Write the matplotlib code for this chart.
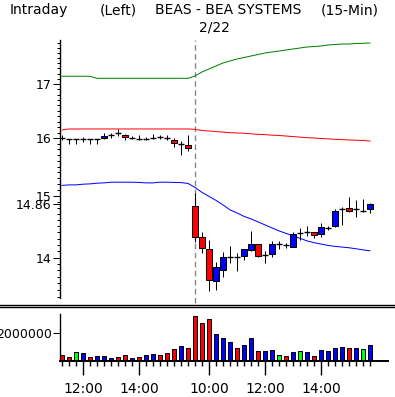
import matplotlib
matplotlib.use("Agg")
import matplotlib.pyplot as plt
from matplotlib import font_manager
from matplotlib.lines import Line2D
from matplotlib.ticker import FixedLocator, FixedFormatter, NullFormatter

# 15-min bars: 19 on the first day (11:15 - 15:45), 26 on 2/22 (9:30 - 15:45)
opens = [16.01, 15.99, 15.99, 15.99, 15.99, 15.99, 16.00, 16.065, 16.095, 16.065,
         16.011, 15.993, 15.982, 16.011, 16.017, 16.011, 15.976, 15.904, 15.886,
         14.833, 14.323, 14.132, 13.640, 13.808, 14.006, 14.006, 14.026, 14.121, 14.216,
         14.042, 14.058, 14.211, 14.195, 14.173, 14.397, 14.403, 14.408, 14.376, 14.477,
         14.510, 14.778, 14.795, 14.778, 14.755, 14.778]
highs = [16.05, 15.99, 15.99, 16.02, 15.99, 15.99, 16.10, 16.10, 16.16, 16.083,
         16.041, 16.053, 16.023, 16.071, 16.053, 16.053, 16.011, 15.946, 16.065,
         15.056, 14.403, 14.280, 13.937, 14.094, 14.184, 14.069, 14.132, 14.424, 14.216,
         14.110, 14.264, 14.264, 14.227, 14.413, 14.468, 14.505, 14.413, 14.549, 14.510,
         14.778, 14.822, 14.988, 14.933, 14.950, 14.878]
lows = [15.96, 15.90, 15.90, 15.93, 15.90, 15.90, 15.99, 16.00, 16.04, 15.964,
        15.982, 15.964, 15.964, 15.982, 15.982, 15.964, 15.845, 15.710, 15.768,
        14.253, 14.078, 13.492, 13.503, 13.705, 13.912, 13.798, 13.964, 14.110, 14.015,
        13.922, 14.015, 14.132, 14.148, 14.164, 14.280, 14.348, 14.307, 14.323, 14.440,
        14.494, 14.521, 14.729, 14.647, 14.729, 14.712]
closes = [16.01, 15.99, 15.99, 15.99, 15.99, 15.99, 16.04, 16.065, 16.095, 16.017,
          16.011, 15.993, 15.982, 16.011, 16.017, 16.011, 15.916, 15.904, 15.827,
          14.332, 14.148, 13.655, 13.850, 14.006, 14.006, 14.006, 14.132, 14.216, 14.031,
          14.042, 14.211, 14.211, 14.195, 14.376, 14.397, 14.403, 14.360, 14.484, 14.477,
          14.750, 14.778, 14.755, 14.778, 14.755, 14.866]

upper_band = [17.15, 17.15, 17.15, 17.15, 17.15, 17.11, 17.11, 17.11, 17.11, 17.11,
              17.11, 17.11, 17.11, 17.11, 17.11, 17.11, 17.11, 17.11, 17.11,
              17.155, 17.232, 17.290, 17.348, 17.406, 17.445, 17.484, 17.514, 17.543, 17.572,
              17.602, 17.622, 17.641, 17.661, 17.681, 17.701, 17.721, 17.730, 17.740, 17.760,
              17.770, 17.780, 17.780, 17.790, 17.794, 17.800]
mid_band = [16.149, 16.167, 16.167, 16.167, 16.167, 16.167, 16.167, 16.167, 16.167, 16.167,
            16.167, 16.167, 16.167, 16.167, 16.167, 16.167, 16.167, 16.167, 16.167,
            16.16, 16.14, 16.13, 16.12, 16.11, 16.10, 16.095, 16.09, 16.08, 16.07,
            16.065, 16.055, 16.05, 16.04, 16.03, 16.02, 16.01, 16.005, 15.995, 15.99,
            15.98, 15.975, 15.97, 15.965, 15.96, 15.95]
lower_band = [15.177, 15.186, 15.186, 15.198, 15.203, 15.215, 15.220, 15.232, 15.232, 15.232,
              15.232, 15.228, 15.220, 15.220, 15.232, 15.232, 15.228, 15.225, 15.211,
              15.143, 15.059, 14.992, 14.925, 14.850, 14.767, 14.717, 14.660, 14.619, 14.570,
              14.521, 14.472, 14.424, 14.384, 14.344, 14.304, 14.264, 14.235, 14.213, 14.191,
              14.176, 14.165, 14.154, 14.138, 14.121, 14.105]

volumes = [430000, 260000, 620000, 570000, 260000, 330000, 330000, 190000, 260000, 400000,
           190000, 260000, 400000, 500000, 400000, 550000, 830000, 1050000, 900000,
           3190000, 2690000, 2980000, 1900000, 1620000, 1330000, 900000, 1120000, 1620000, 690000,
           690000, 760000, 400000, 330000, 620000, 690000, 620000, 330000, 760000, 690000,
           900000, 980000, 900000, 900000, 830000, 1120000]
vol_colors = ["r", "r", "g", "b", "r", "b", "b", "b", "r", "r",
              "b", "r", "b", "b", "r", "r", "r", "b", "r",
              "r", "r", "r", "b", "b", "b", "r", "b", "b", "r",
              "b", "b", "g", "r", "b", "g", "b", "r", "b", "b",
              "b", "b", "r", "b", "g", "b"]

price_ticks = [14, 14.86, 15, 16, 17]
time_tick_pos = [3, 11, 21, 29, 37]
time_tick_labels = ["12:00", "14:00", "10:00", "12:00", "14:00"]
day_break = 19

COLORS = {"r": "#ff0000", "b": "#0000ff", "g": "#00ff00"}

# narrow font if we have it, the original uses a condensed bitmap-ish face
installed = {f.name for f in font_manager.fontManager.ttflist}
if "Liberation Sans Narrow" in installed:
    FONT, FS, HFS = "Liberation Sans Narrow", 12, 12
else:
    FONT, FS, HFS = "DejaVu Sans", 9, 10
plt.rcParams["font.family"] = FONT
plt.rcParams["font.size"] = FS

W, H = 395, 397
fig = plt.figure(figsize=(W / 100, H / 100), dpi=100)


def px_rect(x0, y0, x1, y1):
    return [x0 / W, 1 - y1 / H, (x1 - x0) / W, (y1 - y0) / H]


def idx_from_px(px):
    return (px - 62) / 7.0


ax = fig.add_axes(px_rect(60, 40, 390, 298))
vax = fig.add_axes(px_rect(60, 314, 388, 361))

n = len(closes)
x = list(range(n))
px_lw = 0.72  # one pixel

# bands
ax.plot(x, upper_band, color="#008000", lw=px_lw)
ax.plot(x, mid_band, color="#ff0000", lw=px_lw)
ax.plot(x, lower_band, color="#0000ff", lw=px_lw)

# candles
ax.vlines(x, lows, highs, color="black", lw=px_lw, zorder=3)
for i in range(n):
    o, c = opens[i], closes[i]
    if abs(c - o) < 1e-9:
        ax.hlines(c, i - 0.36, i + 0.36, color="black", lw=px_lw * 1.4, zorder=4)
    else:
        col = COLORS["b"] if c > o else COLORS["r"]
        ax.bar(i, abs(c - o), bottom=min(o, c), width=0.72, color=col,
               edgecolor="black", lw=px_lw, zorder=4)

ax.axvline(day_break, ymin=-0.02, ymax=1.0, color="#888888", lw=1.0,
           ls=(0, (4, 2.5)), clip_on=False, zorder=1)

ax.set_yscale("log")
ax.set_ylim(13.38, 17.86)
ax.set_xlim(idx_from_px(60), idx_from_px(390))
ax.yaxis.set_major_locator(FixedLocator(price_ticks))
ax.yaxis.set_major_formatter(FixedFormatter([str(t) if t != int(t) else str(int(t)) for t in price_ticks]))
minor = [round(13.4 + 0.1 * k, 1) for k in range(45)]
ax.yaxis.set_minor_locator(FixedLocator(minor))
ax.yaxis.set_minor_formatter(NullFormatter())
ax.tick_params(axis="y", which="major", length=5, width=px_lw, pad=1, labelsize=FS)
ax.tick_params(axis="y", which="minor", length=2.5, width=px_lw)
ax.set_xticks([])
for side in ["top", "right", "bottom"]:
    ax.spines[side].set_visible(False)
ax.spines["left"].set_linewidth(1.0)
ax.patch.set_visible(False)

# volume
vax.bar(x, volumes, width=0.6, color=[COLORS[c] for c in vol_colors],
        edgecolor="black", lw=px_lw)
vax.set_xlim(idx_from_px(60), idx_from_px(388))
vax.set_ylim(0, 3360000)
vax.set_yticks([2000000])
vax.set_yticklabels(["2000000"])
vax.set_xticks(time_tick_pos)
vax.set_xticklabels(time_tick_labels)
vax.set_xticks(x, minor=True)
vax.tick_params(axis="x", which="major", length=10, width=1.0, pad=5, labelsize=HFS)
vax.tick_params(axis="x", which="minor", length=3.6, width=1.0)
vax.tick_params(axis="y", length=5, width=px_lw, pad=1, labelsize=FS)
for side in ["top", "right"]:
    vax.spines[side].set_visible(False)
vax.spines["left"].set_linewidth(1.0)
vax.spines["bottom"].set_linewidth(1.4)
vax.patch.set_visible(False)

# separator between price and volume panels
for yy in (304.5, 306.5):
    fig.add_artist(Line2D([0, 1], [1 - yy / H] * 2, color="black", lw=1.0,
                          transform=fig.transFigure))

# header
top_y = 1 - 10 / H
fig.text(10 / W, top_y, "Intraday", ha="left", va="center", fontsize=HFS)
fig.text(100 / W, top_y, "(Left)", ha="left", va="center", fontsize=HFS)
fig.text(155 / W, top_y, "BEAS - BEA SYSTEMS", ha="left", va="center", fontsize=HFS)
fig.text(321 / W, top_y, "(15-Min)", ha="left", va="center", fontsize=HFS)
fig.text(214 / W, 1 - 27.5 / H, "2/22", ha="center", va="center", fontsize=HFS)

fig.savefig("out.png", dpi=100)
